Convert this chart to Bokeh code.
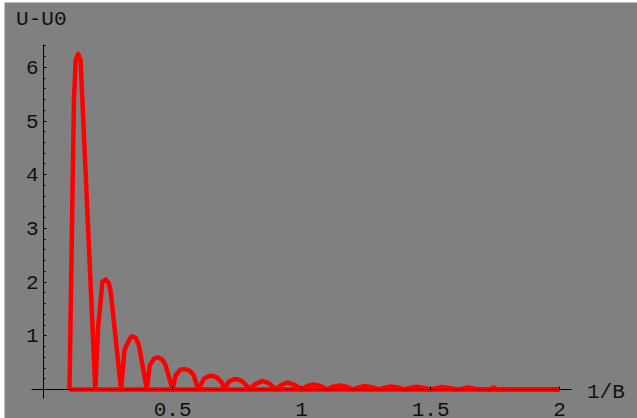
from bokeh.plotting import figure
from bokeh.models import FixedTicker, Label
from bokeh.embed import file_html
from bokeh.resources import INLINE

# U-U0 versus 1/B
inv_b = [0.100, 0.117, 0.124, 0.133, 0.143, 0.200,
         0.211, 0.221, 0.227, 0.240, 0.253, 0.260, 0.300,
         0.313, 0.330, 0.341, 0.356, 0.369, 0.400,
         0.411, 0.427, 0.442, 0.459, 0.472, 0.500,
         0.511, 0.530, 0.546, 0.562, 0.579, 0.600,
         0.621, 0.641, 0.654, 0.673, 0.693, 0.700,
         0.718, 0.737, 0.750, 0.770, 0.790, 0.800,
         0.820, 0.848, 0.875, 0.900,
         0.920, 0.945, 0.975, 1.000,
         1.020, 1.045, 1.075, 1.100,
         1.120, 1.145, 1.175, 1.200,
         1.220, 1.245, 1.275, 1.300,
         1.320, 1.345, 1.375, 1.400,
         1.420, 1.445, 1.475, 1.500,
         1.520, 1.545, 1.575, 1.600,
         1.625, 1.645, 1.670, 1.700,
         1.730, 1.745, 1.760, 1.800,
         2.000]
u_minus_u0 = [0.00, 5.35, 6.13, 6.25, 6.13, 0.00,
              1.16, 1.66, 2.00, 2.05, 1.97, 1.81, 0.00,
              0.73, 0.91, 0.99, 0.97, 0.82, 0.00,
              0.45, 0.57, 0.60, 0.56, 0.46, 0.00,
              0.26, 0.37, 0.38, 0.36, 0.29, 0.00,
              0.20, 0.25, 0.255, 0.22, 0.11, 0.00,
              0.15, 0.19, 0.19, 0.15, 0.06, 0.00,
              0.10, 0.16, 0.11, 0.00,
              0.08, 0.13, 0.08, 0.00,
              0.06, 0.095, 0.06, 0.00,
              0.05, 0.075, 0.05, 0.00,
              0.04, 0.065, 0.04, 0.00,
              0.035, 0.055, 0.035, 0.00,
              0.03, 0.05, 0.03, 0.00,
              0.025, 0.045, 0.025, 0.00,
              0.015, 0.04, 0.015, 0.00,
              0.00, 0.035, 0.00, 0.00,
              0.00]

baseline_x = [0.1, 2.0]
baseline_y = [0.0, 0.0]

x_ticks = [0.5, 1.0, 1.5, 2.0]
x_tick_labels = {0.5: "0.5", 1.0: "1", 1.5: "1.5", 2.0: "2"}
y_ticks = [1, 2, 3, 4, 5, 6]
y_minor_ticks = [0.2, 0.4, 0.6, 0.8, 1.2, 1.4, 1.6, 1.8, 2.2, 2.4, 2.6, 2.8,
                 3.2, 3.4, 3.6, 3.8, 4.2, 4.4, 4.6, 4.8, 5.2, 5.4, 5.6, 5.8,
                 6.2, 6.4]

FONT = "Liberation Mono"
GRAY = "#808080"
RED = "#ff0000"

p = figure(width=633, height=416, x_range=(-0.152, 2.302), y_range=(-0.54, 7.207),
           output_backend="svg", toolbar_location=None, min_border=0,
           background_fill_color=GRAY, border_fill_color=GRAY)
p.styles = {"margin-left": "4px", "margin-top": "2px"}
p.outline_line_color = None
p.grid.visible = False

p.line(baseline_x, baseline_y, line_color=RED, line_width=4.5)
p.line(inv_b, u_minus_u0, line_color=RED, line_width=4.5, line_join="round")

for ax in (p.xaxis[0], p.yaxis[0]):
    ax.fixed_location = 0
    ax.axis_line_color = "black"
    ax.axis_line_width = 1
    ax.major_tick_line_color = "black"
    ax.minor_tick_line_color = "black"
    ax.major_tick_in = 3
    ax.major_tick_out = 0
    ax.minor_tick_in = 2
    ax.minor_tick_out = 0
    ax.major_label_text_font = FONT
    ax.major_label_text_font_size = "21px"
    ax.major_label_text_color = "#111111"

p.xaxis.ticker = FixedTicker(ticks=x_ticks)
p.xaxis.major_label_overrides = x_tick_labels
p.xaxis.bounds = (-0.047, 2.046)
p.xaxis.major_label_standoff = 13

p.yaxis.ticker = FixedTicker(ticks=y_ticks, minor_ticks=y_minor_ticks)
p.yaxis.bounds = (-0.168, 6.425)
p.yaxis.major_label_standoff = 5

p.add_layout(Label(x=-0.107, y=6.89, text="U-U0", text_font=FONT,
                   text_font_size="21px", text_color="#111111",
                   text_baseline="alphabetic"))
p.add_layout(Label(x=2.106, y=-0.055, text="1/B", text_font=FONT,
                   text_font_size="21px", text_color="#111111",
                   text_baseline="alphabetic"))

open("out.html", "w").write(file_html(p, INLINE))
